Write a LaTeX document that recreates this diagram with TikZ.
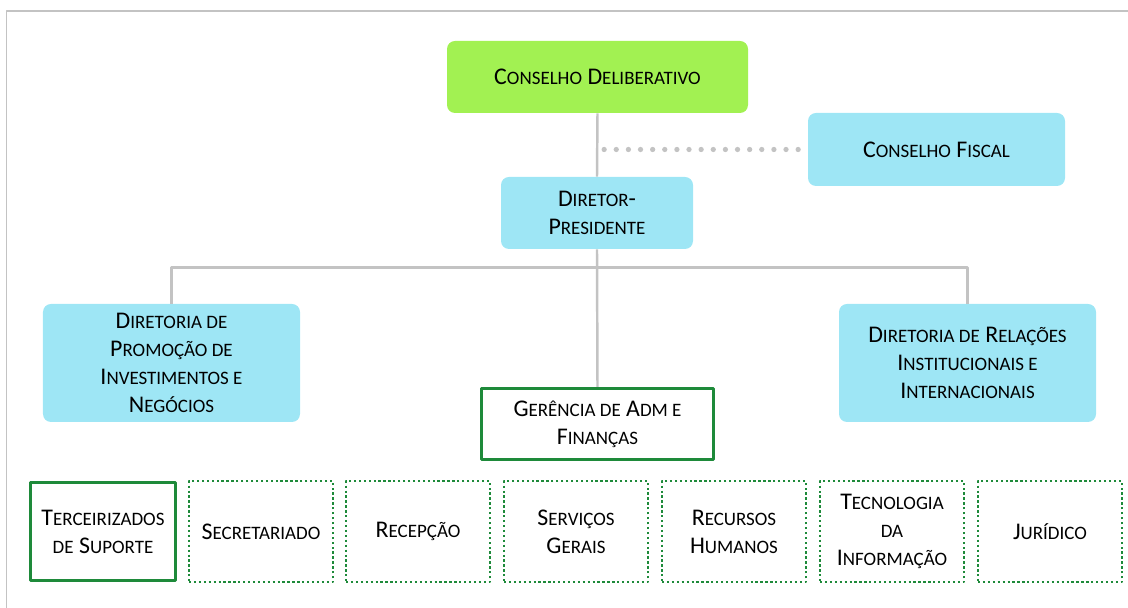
\documentclass[tikz,border=0pt]{standalone}
\usepackage{fontspec}
\setmainfont{Carlito}
\usepackage{tikz}
\usetikzlibrary{
  arrows.meta,  % 箭头样式
  calc,         % 坐标计算
  positioning   % 节点相对定位
}
% 颜色
\definecolor{boardgreen}{HTML}{A2F152}
\definecolor{unitcyan}{HTML}{9EE6F5}
\definecolor{staffgreen}{HTML}{1E8A3A}
\definecolor{linkgray}{HTML}{C3C3C3}
% 仿小型大写字母
\newcommand{\kp}[1]{{\fontsize{10.8}{15.9}\selectfont\MakeUppercase{#1}}}

\begin{document}
\begin{tikzpicture}[>=Stealth, line join=round, font=\fontsize{13.6}{15.9}\selectfont]
  % 统一设置：圆角色块、绿色实线框、绿色点线框、灰色连线
  \tikzset{
    board box/.style={fill=boardgreen, rounded corners=0.16cm, align=center, inner sep=0pt},
    unit box/.style={fill=unitcyan, rounded corners=0.16cm, align=center, inner sep=0pt},
    staff box/.style={draw=staffgreen, line width=1.5pt, fill=white, align=center, inner sep=0pt},
    staff dotted/.style={draw=staffgreen, line width=1.3pt, dash pattern=on 1.3pt off 1.5pt, align=center, inner sep=0pt},
    link line/.style={draw=linkgray, line width=1.4pt},
    dot link/.style={draw=linkgray, line width=3pt, line cap=round, dash pattern=on 0pt off 6.9pt},
    frame line/.style={draw=linkgray, line width=1pt}
  }

  % 画布范围与外框
  \useasboundingbox (0, 0) rectangle (22.56, 12.16);
  \draw[frame line] (0.13, 0) -- (0.13, 11.94) -- (22.56, 11.94);

  % =======================
  % 第一层：理事会与监事会
  % =======================
  \node[board box, minimum width=6.02cm, minimum height=1.44cm] (cd) at (11.95, 10.62)
    {C\kp{onselho} D\kp{eliberativo}};
  \node[unit box, minimum width=5.14cm, minimum height=1.46cm] (cf) at (18.73, 9.17)
    {C\kp{onselho} F\kp{iscal}};

  % =======================
  % 第二层：总裁
  % =======================
  \node[unit box, minimum width=3.84cm, minimum height=1.44cm] (dp) at (11.94, 7.90)
    {D\kp{iretor}-\\P\kp{residente}};

  % =======================
  % 第三层：两个理事部与管理财务部
  % =======================
  \node[unit box, minimum width=5.14cm, minimum height=2.36cm] (dpi) at (3.43, 4.90)
    {D\kp{iretoria de}\\P\kp{romoção de}\\I\kp{nvestimentos e}\\N\kp{egócios}};
  \node[unit box, minimum width=5.14cm, minimum height=2.36cm] (dri) at (19.35, 4.90)
    {D\kp{iretoria de} R\kp{elações}\\I\kp{nstitucionais e}\\I\kp{nternacionais}};
  \node[staff box, minimum width=4.65cm, minimum height=1.43cm] (gaf) at (11.95, 3.68)
    {G\kp{erência de} A\kp{dm e}\\F\kp{inanças}};

  % =======================
  % 第四层：下属部门
  % =======================
  \node[staff box, minimum width=2.9cm, minimum height=1.97cm] (ter) at (2.06, 1.53)
    {T\kp{erceirizados}\\ \kp{de} S\kp{uporte}};
  \node[staff dotted, minimum width=2.88cm, minimum height=2.02cm] (sec) at (5.22, 1.53)
    {S\kp{ecretariado}};
  \node[staff dotted, minimum width=2.88cm, minimum height=2.02cm] (rec) at (8.36, 1.53)
    {R\kp{ecepção}};
  \node[staff dotted, minimum width=2.88cm, minimum height=2.02cm] (sgr) at (11.52, 1.53)
    {S\kp{erviços}\\G\kp{erais}};
  \node[staff dotted, minimum width=2.88cm, minimum height=2.02cm] (rhu) at (14.68, 1.53)
    {R\kp{ecursos}\\H\kp{umanos}};
  \node[staff dotted, minimum width=2.88cm, minimum height=2.02cm] (tin) at (17.84, 1.53)
    {T\kp{ecnologia}\\ \kp{da}\\I\kp{nformação}};
  \node[staff dotted, minimum width=2.88cm, minimum height=2.02cm] (jur) at (21.00, 1.53)
    {J\kp{urídico}};

  % =======================
  % 连线
  % =======================
  \draw[link line] (cd.south) -- (dp.north);
  \draw[link line] (dp.south) -- (gaf.north);
  \coordinate (bar) at ($(dp.south)+(0, -0.36)$);
  \draw[link line] (dpi.north) |- (bar) -| (dri.north);
  % 监事会的点状虚线
  \draw[dot link] ([xshift=-0.19cm]cf.west) -- ([xshift=0.14cm]dp.north |- cf.west);

\end{tikzpicture}
\end{document}
